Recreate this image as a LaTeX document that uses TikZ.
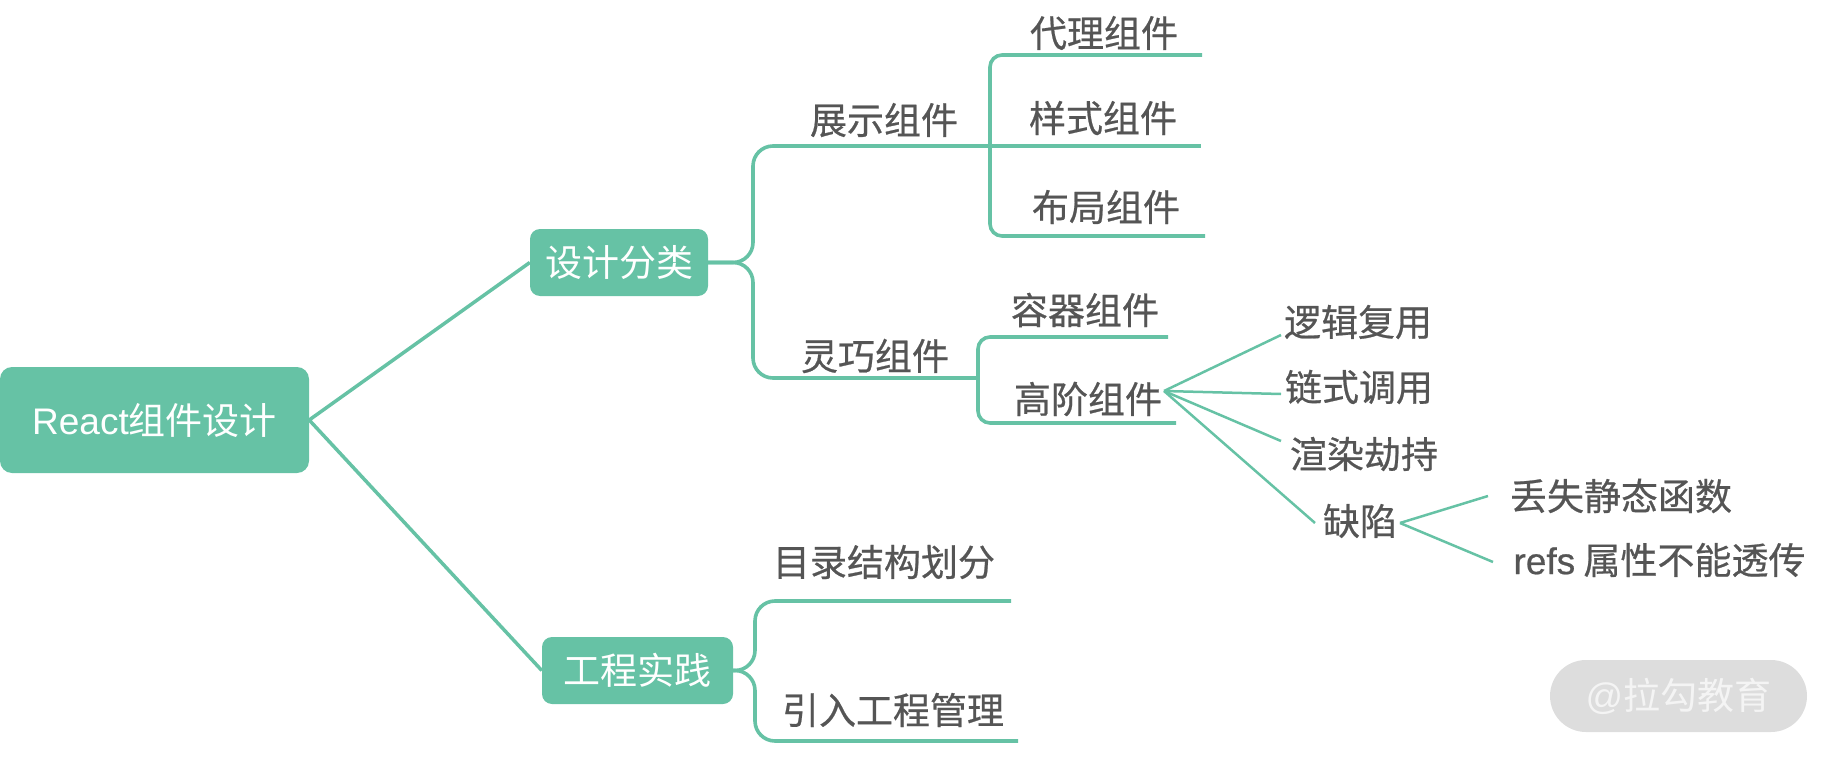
\documentclass[tikz,border=0pt]{standalone}
\usepackage{fontspec}
\setmainfont{Liberation Sans}
\newfontfamily\cjk{Noto Sans CJK SC}
\newfontfamily\cjkm[FakeBold=0.6]{Noto Sans CJK SC}
\newfontfamily\lat{Liberation Sans}
\newfontfamily\latm[FakeBold=0.6]{Liberation Sans}
\definecolor{tealm}{HTML}{66C2A5}
\definecolor{txtg}{HTML}{555555}
\definecolor{wmfill}{HTML}{DDDDDD}
\definecolor{wmtext}{HTML}{F4F4F4}
\begin{document}
\begin{tikzpicture}[x=1pt,y=-1pt,
  box/.style={fill=tealm, rounded corners=12pt, text=white, inner sep=0pt,
    font=\fontsize{37}{40}\selectfont\cjk},
  lbl/.style={text=txtg, inner sep=0pt, font=\fontsize{37}{40}\selectfont\cjkm},
  rootline/.style={draw=tealm, line width=3.5pt},
  mainbrace/.style={draw=tealm, line width=3.6pt, rounded corners=20pt},
  subbrace/.style={draw=tealm, line width=3.6pt, rounded corners=12pt},
  fan/.style={draw=tealm, line width=2.5pt},
]
\useasboundingbox (0,0) rectangle (1832,757);

% boxes
\node[box, minimum width=309pt, minimum height=106pt] (root) at (154.5,420) {{\lat React}组件设计};
\node[box, minimum width=178pt, minimum height=67pt, rounded corners=10pt] (sj) at (619,262.5) {设计分类};
\node[box, minimum width=191pt, minimum height=67pt, rounded corners=10pt] (gc) at (637.5,670.5) {工程实践};

% labels
\node[lbl] (zs) at (884,120) {展示组件};
\node[lbl] (lq) at (875,356) {灵巧组件};
\node[lbl] (dl) at (1104,33) {代理组件};
\node[lbl] (ys) at (1103,118) {样式组件};
\node[lbl] (bj) at (1106,207) {布局组件};
\node[lbl] (rq) at (1085,310) {容器组件};
\node[lbl] (gj) at (1088,399) {高阶组件};
\node[lbl] (lj) at (1358,322) {逻辑复用};
\node[lbl] (ls) at (1359,387) {链式调用};
\node[lbl] (xr) at (1364,454) {渲染劫持};
\node[lbl] (qx) at (1360,521) {缺陷};
\node[lbl] (ds) at (1621,496) {丢失静态函数};
\node[lbl] (rf) at (1659.5,560) {{\latm refs} 属性不能透传};
\node[lbl] (ml) at (884,562) {目录结构划分};
\node[lbl] (yr) at (893,710) {引入工程管理};

% underline coordinates
\coordinate (zsL) at (753,146);  \coordinate (zsR) at (990,146);
\coordinate (lqL) at (753,378);  \coordinate (lqR) at (978,378);
\coordinate (dlR) at (1202,55);
\coordinate (ysR) at (1201,146);
\coordinate (bjR) at (1205,236);
\coordinate (rqR) at (1168,337);
\coordinate (gjR) at (1176,423);
\coordinate (mlL) at (755,601);  \coordinate (mlR) at (1011,601);
\coordinate (yrL) at (755,741);  \coordinate (yrR) at (1018,741);

% fan coordinates
\coordinate (gjP) at (1164,391);
\coordinate (ljE) at (1281,335);
\coordinate (lsE) at (1281,394);
\coordinate (xrE) at (1281,441);
\coordinate (qxE) at (1315,523);
\coordinate (qxP) at (1400,523);
\coordinate (dsE) at (1488,496);
\coordinate (rfE) at (1493,562);

% root connectors
\draw[rootline] (root.east) -- (sj.west);
\draw[rootline] (root.east) -- (gc.west);

% main braces
\draw[mainbrace] (sj.east) -| (zsL) -- (zsR);
\draw[mainbrace] (sj.east) -| (lqL) -- (lqR);
\draw[mainbrace] (gc.east) -| (mlL) -- (mlR);
\draw[mainbrace] (gc.east) -| (yrL) -- (yrR);

% sub braces
\draw[subbrace] (zsR) |- (dlR);
\draw[subbrace] (zsR) -- (ysR);
\draw[subbrace] (zsR) |- (bjR);
\draw[subbrace] (lqR) |- (rqR);
\draw[subbrace] (lqR) |- (gjR);

% fans
\draw[fan] (gjP) -- (ljE);
\draw[fan] (gjP) -- (lsE);
\draw[fan] (gjP) -- (xrE);
\draw[fan] (gjP) -- (qxE);
\draw[fan] (qxP) -- (dsE);
\draw[fan] (qxP) -- (rfE);

% watermark
\node[fill=wmfill, rounded corners=36pt, minimum width=257pt, minimum height=72pt, inner sep=0pt,
  text=wmtext, font=\fontsize{37}{40}\selectfont\cjk] (wm) at (1678.5,696) {{\lat @}拉勾教育};
\end{tikzpicture}
\end{document}
